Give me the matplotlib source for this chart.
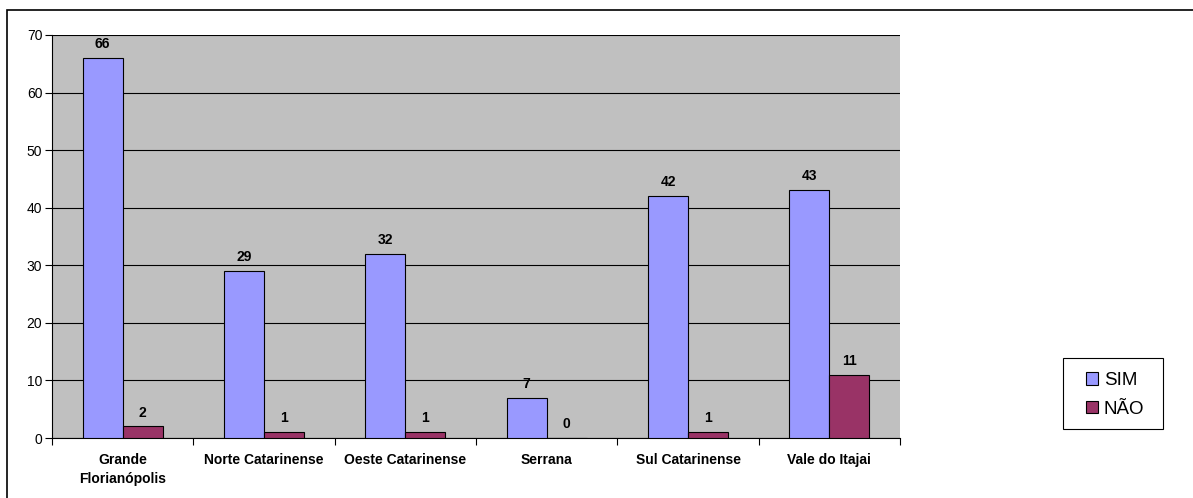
import matplotlib.pyplot as plt
import numpy as np
from matplotlib.patches import Rectangle

plt.rcParams['font.family'] = ['Liberation Sans', 'DejaVu Sans']

# data
regions = ['Grande\nFlorianópolis', 'Norte Catarinense', 'Oeste Catarinense',
           'Serrana', 'Sul Catarinense', 'Vale do Itajai']
sim = [66, 29, 32, 7, 42, 43]
nao = [2, 1, 1, 0, 1, 11]
series_names = ['SIM', 'NÃO']
y_ticks = [0, 10, 20, 30, 40, 50, 60, 70]

W, H = 1193, 498
fig = plt.figure(figsize=(W / 100, H / 100), dpi=100)
ax = fig.add_axes([52 / W, 1 - 438 / H, (900 - 52) / W, (438 - 35) / H])

# outer chart border (left and top visible)
fig.patches.append(Rectangle((7.5 / W, -0.05), 1.1, 1 - 10.5 / H + 0.05,
                             transform=fig.transFigure, fill=False,
                             edgecolor='black', linewidth=1.2, zorder=0))

x = np.arange(len(regions))
w = 0.283
ax.set_facecolor('#C0C0C0')
b1 = ax.bar(x - w / 2, sim, w, color='#9999FF', edgecolor='black', linewidth=0.8,
            label=series_names[0], zorder=3)
b2 = ax.bar(x + w / 2, nao, w, color='#993366', edgecolor='black', linewidth=0.8,
            label=series_names[1], zorder=3)

for bars, vals in ((b1, sim), (b2, nao)):
    for bar, v in zip(bars, vals):
        ax.annotate(str(v), xy=(bar.get_x() + bar.get_width() / 2, v),
                    xytext=(0, 5), textcoords='offset points', ha='center',
                    va='bottom', fontsize=10, fontweight='bold')

ax.set_ylim(0, 70)
ax.set_xlim(-0.5, len(regions) - 0.5)
ax.set_yticks(y_ticks)
ax.tick_params(axis='y', labelsize=10, length=5, direction='out', pad=2)
ax.yaxis.grid(True, color='black', linewidth=0.8, zorder=1)
ax.set_axisbelow(True)

# category boundary ticks below, labels centred
ax.set_xticks(np.arange(len(regions) + 1) - 0.5)
ax.set_xticklabels([])
ax.set_xticks(x, minor=True)
ax.set_xticklabels(regions, minor=True, fontsize=10, fontweight='bold', linespacing=1.45)
ax.tick_params(axis='x', which='major', length=5, direction='out')
ax.tick_params(axis='x', which='minor', length=0, pad=11)

for s in ['top', 'right']:
    ax.spines[s].set_visible(False)
ax.spines['left'].set_linewidth(0.8)
ax.spines['bottom'].set_linewidth(0.8)

# legend: entries plus a separate box
fig.legend(handles=[b1, b2], loc='center', bbox_to_anchor=(1115 / W, 1 - 395 / H),
           frameon=False, fontsize=13.5, handlelength=0.64, handleheight=0.64,
           handletextpad=0.32, borderpad=0, labelspacing=0.62, borderaxespad=0)
fig.patches.append(Rectangle((1062.5 / W, 1 - 429 / H), 100 / W, 71 / H,
                             transform=fig.transFigure, fill=False,
                             edgecolor='black', linewidth=0.8))

plt.savefig('out.png', dpi=100)
